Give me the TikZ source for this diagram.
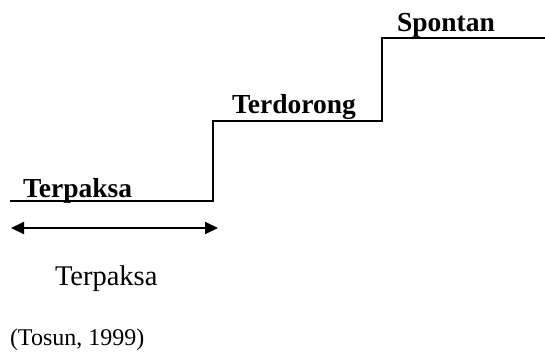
\documentclass[tikz,border=0pt]{standalone}
\usepackage{fontspec}
\setmainfont{Liberation Serif}
\usetikzlibrary{arrows.meta}
\begin{document}
\begin{tikzpicture}[
        x=1pt, y=-1pt,
        line width=2pt
    ]
    \tikzset{
        steplbl/.style = {anchor=base west, inner sep=0pt, font=\fontsize{27.5}{31}\selectfont\bfseries},
        plainlbl/.style = {anchor=base west, inner sep=0pt, font=\fontsize{28.5}{32}\selectfont},
        srclbl/.style = {anchor=base west, inner sep=0pt, font=\fontsize{24}{28}\selectfont},
        stair/.style = {-, line join=miter},
        span/.style = {{Triangle[length=13pt,width=12pt]}-{Triangle[length=13pt,width=12pt]}},
    }
    \useasboundingbox (0,0) rectangle (545,354);
    % stair corners
    \coordinate (s0) at (10,201);
    \coordinate (s1) at (213,201);
    \coordinate (s2) at (213,121);
    \coordinate (s3) at (382,121);
    \coordinate (s4) at (382,38);
    \coordinate (s5) at (546,38);
    \draw[stair] (s0) -- (s1) -- (s2) -- (s3) -- (s4) -- (s5);
    %
    \node[steplbl] at (22,197) (paksa) {Terpaksa};
    \node[steplbl] at (231,113) (dorong) {Terdorong};
    \node[steplbl] at (396,31) (spontan) {Spontan};
    %
    \coordinate (al) at (11,228);
    \coordinate (ar) at (218,228);
    \draw[span] (al) -- (ar);
    %
    \node[plainlbl] at (54,285) (paksab) {Terpaksa};
    \node[srclbl] at (9,345) (sumber) {(Tosun, 1999)};
\end{tikzpicture}
\end{document}
